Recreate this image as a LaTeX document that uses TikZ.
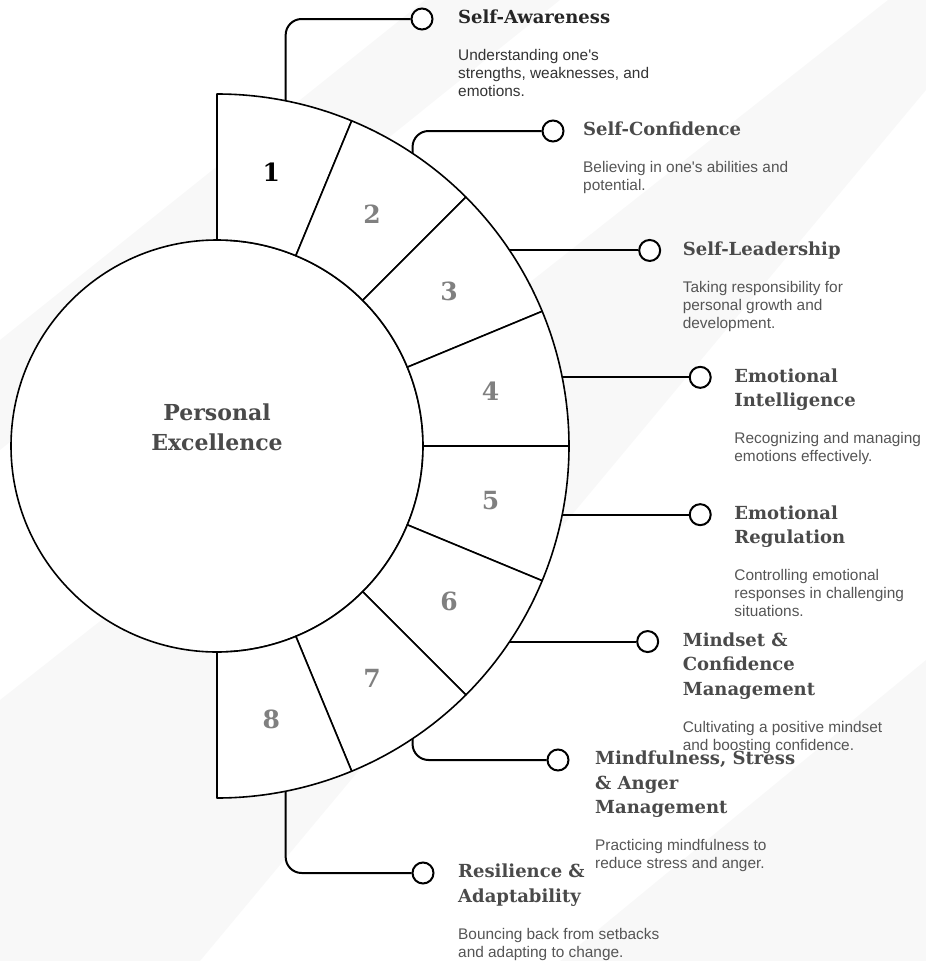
\documentclass[tikz,border=0pt]{standalone}
\usepackage{fontspec}
\setmainfont{Liberation Sans}
\newfontfamily\headfont{DejaVu Serif}
\usepackage{xcolor}
\usepackage{tikz}
\usetikzlibrary{calc}

\definecolor{headgray}{HTML}{4A4A4A}
\definecolor{textgray}{HTML}{555555}
\definecolor{numgray}{HTML}{808080}
\definecolor{bandgray}{HTML}{F8F8F8}

\tikzset{
  ring/.style={line width=1.6pt, draw=black, line join=round},
  link/.style={line width=2pt, rounded corners=16pt},
  dot/.style={circle, draw=black, line width=2pt, fill=white, minimum size=21pt, inner sep=0pt},
  numlabel/.style={font=\headfont\bfseries\fontsize{25}{28}\selectfont},
  headlabel/.style={anchor=north west, inner sep=0pt, align=left, text=headgray,
    font=\headfont\bfseries\fontsize{18}{24.5}\selectfont},
  desclabel/.style={anchor=north west, inner sep=0pt, align=left, text=textgray,
    font=\fontsize{15.4}{18}\selectfont},
}

\begin{document}
\begin{tikzpicture}[x=1pt,y=1pt]
\useasboundingbox (0,0) rectangle (926,-961);

%background bands
\fill[bandgray] (0,-340) -- (425,0) -- (560,0) -- (0,-450) -- cycle;
\fill[bandgray] (0,-700) -- (926,30) -- (926,-90) -- (200,-961) -- (0,-961) -- cycle;
\fill[bandgray] (560,-961) -- (926,-660) -- (926,-961) -- cycle;

%draw core circle
\coordinate (C) at (217,-446);
\draw[ring, fill=white] (C) circle (206);
\node[font=\headfont\bfseries\fontsize{22}{30}\selectfont, text=headgray, align=center] (core) at (217,-427) {Personal\\Excellence};

%draw ring segments
\foreach \i/\c in {1/black,2/numgray,3/numgray,4/numgray,5/numgray,6/numgray,7/numgray,8/numgray}{
  \pgfmathsetmacro\a{90-22.5*(\i-1)}
  \pgfmathsetmacro\b{90-22.5*\i}
  \pgfmathsetmacro\m{90-22.5*(\i-0.5)}
  \draw[ring, fill=white] ($(C)+(\a:206)$) arc[start angle=\a, end angle=\b, radius=206]
    -- ($(C)+(\b:352)$) arc[start angle=\b, end angle=\a, radius=352] -- cycle;
  \node[numlabel, text=\c] (n\i) at ($(C)+(\m:279)$) {\i};
  \coordinate (s\i) at ($(C)+(\m:352)$);
}

%draw markers
\node[dot] (m1) at (422,-19) {};
\node[dot] (m2) at (553,-131) {};
\node[dot] (m3) at ($(s3)+(140,0)$) {};
\node[dot] (m4) at ($(s4)+(138,0)$) {};
\node[dot] (m5) at ($(s5)+(138,0)$) {};
\node[dot] (m6) at ($(s6)+(138,0)$) {};
\node[dot] (m7) at (558,-760) {};
\node[dot] (m8) at (423,-873) {};

%draw connectors
\draw[link] (s1) |- (m1);
\draw[link] (s2) |- (m2);
\draw[link] (s3) -- (m3);
\draw[link] (s4) -- (m4);
\draw[link] (s5) -- (m5);
\draw[link] (s6) -- (m6);
\draw[link] (s7) |- (m7);
\draw[link] (s8) |- (m8);

%draw titles
\node[headlabel, text=black!85] (t1) at ($(m1)+(36,12.6)$) {\strut Self-Awareness\strut};
\node[headlabel] (t2) at ($(m2)+(30,12.6)$) {\strut Self-Confidence\strut};
\node[headlabel] (t3) at ($(m3)+(33,12.6)$) {\strut Self-Leadership\strut};
\node[headlabel] (t4) at ($(m4)+(34,12.6)$) {\strut Emotional\\Intelligence\strut};
\node[headlabel] (t5) at ($(m5)+(34,12.6)$) {\strut Emotional\\Regulation\strut};
\node[headlabel] (t6) at ($(m6)+(35,12.6)$) {\strut Mindset \&\\Confidence\\Management\strut};
\node[headlabel] (t7) at ($(m7)+(37,12.6)$) {\strut Mindfulness, Stress\\\& Anger\\Management\strut};
\node[headlabel] (t8) at ($(m8)+(35,12.6)$) {\strut Resilience \&\\Adaptability\strut};

%draw descriptions
\node[desclabel, text=black!80] (d1) at ($(t1.south west)+(0,-16.5)$) {\strut Understanding one\textquotesingle s\\strengths, weaknesses, and\\emotions.\strut};
\node[desclabel] (d2) at ($(t2.south west)+(0,-16.5)$) {\strut Believing in one\textquotesingle s abilities and\\potential.\strut};
\node[desclabel] (d3) at ($(t3.south west)+(0,-16.5)$) {\strut Taking responsibility for\\personal growth and\\development.\strut};
\node[desclabel] (d4) at ($(t4.south west)+(0,-16.5)$) {\strut Recognizing and managing\\emotions effectively.\strut};
\node[desclabel] (d5) at ($(t5.south west)+(0,-16.5)$) {\strut Controlling emotional\\responses in challenging\\situations.\strut};
\node[desclabel] (d6) at ($(t6.south west)+(0,-16.5)$) {\strut Cultivating a positive mindset\\and boosting confidence.\strut};
\node[desclabel] (d7) at ($(t7.south west)+(0,-16.5)$) {\strut Practicing mindfulness to\\reduce stress and anger.\strut};
\node[desclabel] (d8) at ($(t8.south west)+(0,-16.5)$) {\strut Bouncing back from setbacks\\and adapting to change.\strut};
\end{tikzpicture}
\end{document}
